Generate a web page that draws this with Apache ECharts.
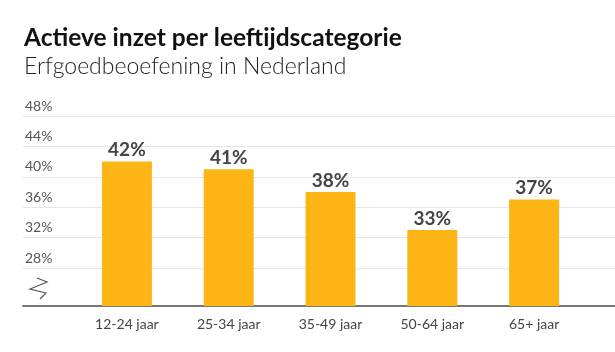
<!DOCTYPE html>
<html>
<head>
<meta charset="utf-8"/>
<title>Actieve inzet per leeftijdscategorie</title>
<style>
    html, body { margin: 0; padding: 0; background: #fff; }
    #chart { width: 615px; height: 352px; }
</style>
<script src="https://cdn.jsdelivr.net/npm/echarts@6/dist/echarts.min.js"></script>
</head>
<body>
<div id="chart"></div>
<script>
    // data
    var categories = ['12-24 jaar', '25-34 jaar', '35-49 jaar', '50-64 jaar', '65+ jaar'];
    var values = [42, 41, 38, 33, 37];
    var yTicks = [28, 32, 36, 40, 44, 48];
    var yMin = 23;
    var yMax = 48;

    var font = 'Lato';
    var chart = echarts.init(document.getElementById('chart'));

    var option = {
        animation: false,
        title: [
            {
                text: 'Actieve inzet per leeftijdscategorie',
                left: 19, top: 21,
                textStyle: { fontFamily: font, fontSize: 24.5, fontWeight: 'bold', color: '#111' }
            },
            {
                text: 'Erfgoedbeoefening in Nederland',
                left: 19, top: 50,
                textStyle: { fontFamily: font, fontSize: 23, fontWeight: 300, color: '#222' }
            }
        ],
        // grid 0: full width, for grid lines, y labels and the base line
        // grid 1: where the bars sit
        grid: [
            { left: 23, right: 0, top: 116, bottom: 46 },
            { left: 76, right: 30, top: 116, bottom: 46 }
        ],
        xAxis: [
            {
                gridIndex: 0, type: 'value', min: 0, max: 1,
                axisLine: { show: true, lineStyle: { color: '#777', width: 2 } },
                axisTick: { show: false }, axisLabel: { show: false }, splitLine: { show: false }
            },
            {
                gridIndex: 1, type: 'category', data: categories,
                axisLine: { show: false }, axisTick: { show: false },
                axisLabel: { fontFamily: font, fontSize: 14, color: '#444', margin: 11 }
            }
        ],
        yAxis: [
            {
                gridIndex: 0, type: 'value', min: yMin, max: yMax,
                axisLine: { show: false },
                axisTick: { show: false, customValues: yTicks },
                axisLabel: {
                    customValues: yTicks, inside: true, margin: 2,
                    verticalAlign: 'bottom', padding: [0, 0, 3, 0],
                    fontFamily: font, fontSize: 14, color: '#555',
                    formatter: '{value}%'
                },
                splitLine: { show: true, lineStyle: { color: '#e6e6e6', width: 1 } }
            },
            {
                gridIndex: 1, type: 'value', min: yMin, max: yMax, show: false,
                splitLine: { show: false }
            }
        ],
        series: [
            {
                type: 'bar', xAxisIndex: 1, yAxisIndex: 1,
                data: values, barWidth: 50,
                itemStyle: { color: '#FDB515' },
                label: {
                    show: true, position: 'top', distance: 2,
                    fontFamily: font, fontSize: 19, fontWeight: 'bold', color: '#444',
                    formatter: '{c}%'
                }
            }
        ],
        graphic: [
            {
                // broken axis mark
                type: 'polyline',
                shape: { points: [[37, 278], [47, 282], [30, 289], [46, 293], [40, 299]] },
                style: { stroke: '#555', lineWidth: 1.2, fill: null }
            }
        ]
    };

    chart.setOption(option);
</script>
</body>
</html>
